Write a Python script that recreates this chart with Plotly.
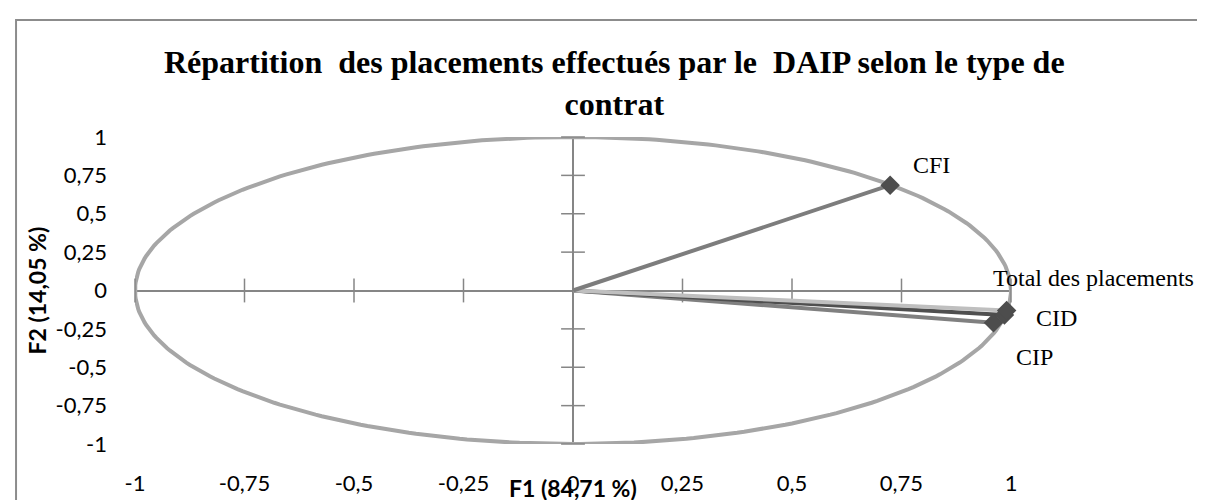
import numpy as np
import plotly.graph_objects as go

# coordonnées des variables sur F1 / F2
variables = ["CIP", "CID", "Total des placements", "CFI"]
f1 = [0.96, 0.985, 0.99, 0.724]
f2 = [-0.21, -0.16, -0.13, 0.686]
couleurs = ["#808080", "#4F4F4F", "#BFBFBF", "#7D7D7D"]
# décalage des étiquettes (px)
lab_dx = [21, 30, -16, 21]
lab_dy = [-34, -3, 32, 20]

tickvals = [-1, -0.75, -0.5, -0.25, 0, 0.25, 0.5, 0.75, 1]
ticktext = ["-1", "-0,75", "-0,5", "-0,25", "0", "0,25", "0,5", "0,75", "1"]

titre = "Répartition  des placements effectués par le  DAIP selon le type de<br>contrat"
titre_x = "F1 (84,71 %)"
titre_y = "F2 (14,05 %)"

axe_gris = "#868686"

fig = go.Figure()

# cercle des corrélations
t = np.linspace(0, 2 * np.pi, 361)
fig.add_trace(go.Scatter(x=np.cos(t), y=np.sin(t), mode="lines",
                         line=dict(color="#A6A6A6", width=4),
                         cliponaxis=False, hoverinfo="skip"))

# petites graduations en croix sur les axes
tk = [v for v in tickvals if v != 0]
fig.add_trace(go.Scatter(x=tk, y=[0] * len(tk), mode="markers",
                         marker=dict(symbol="line-ns", size=17,
                                     line=dict(color=axe_gris, width=1.5)),
                         cliponaxis=False, hoverinfo="skip"))
fig.add_trace(go.Scatter(x=[0] * len(tk), y=tk, mode="markers",
                         marker=dict(symbol="line-ew", size=17,
                                     line=dict(color=axe_gris, width=1.5)),
                         cliponaxis=False, hoverinfo="skip"))

# vecteurs
for i in range(len(variables)):
    fig.add_trace(go.Scatter(x=[0, f1[i]], y=[0, f2[i]], mode="lines",
                             line=dict(color=couleurs[i], width=4),
                             cliponaxis=False, name=variables[i]))
fig.add_trace(go.Scatter(x=f1, y=f2, mode="markers",
                         marker=dict(symbol="diamond", size=15, color="#4D4D4D"),
                         cliponaxis=False, text=variables, hoverinfo="text"))

for i in range(len(variables)):
    fig.add_annotation(x=f1[i], y=f2[i], text=variables[i], showarrow=False,
                       xanchor="left", yanchor="middle",
                       xshift=lab_dx[i], yshift=lab_dy[i],
                       font=dict(family="Liberation Serif", size=24, color="black"))

fig.add_annotation(xref="x", yref="paper", x=0, y=-0.143, text="<b>" + titre_x + "</b>",
                   showarrow=False, yanchor="middle",
                   font=dict(family="Lato", size=23, color="black"))
fig.add_annotation(xref="paper", yref="y", x=-0.113, y=0, text="<b>" + titre_y + "</b>",
                   showarrow=False, textangle=-90, xanchor="center",
                   font=dict(family="Lato", size=23, color="black"))
fig.add_annotation(xref="paper", yref="paper", x=0.547, y=1.308, text="<b>" + titre + "</b>",
                   showarrow=False, yanchor="top", align="center",
                   font=dict(family="Liberation Serif", size=32, color="black"))

# cadre du graphique
fig.add_shape(type="rect", xref="paper", yref="paper",
              x0=-0.1358, x1=1.5, y0=-0.5, y1=1.381,
              line=dict(color="#8C8C8C", width=2))

axe = dict(range=[-1, 1], showgrid=False, showline=False, ticks="",
           zeroline=True, zerolinecolor=axe_gris, zerolinewidth=2,
           tickvals=tickvals, ticktext=ticktext,
           tickfont=dict(family="Lato", size=22, color="black"))

fig.update_layout(width=1205, height=500,
                  margin=dict(l=127, r=202, t=129, b=59),
                  paper_bgcolor="white", plot_bgcolor="white",
                  showlegend=False,
                  xaxis=dict(axe, ticklabelstandoff=24),
                  yaxis=dict(axe, ticklabelstandoff=27))

fig.write_html("out.html")
